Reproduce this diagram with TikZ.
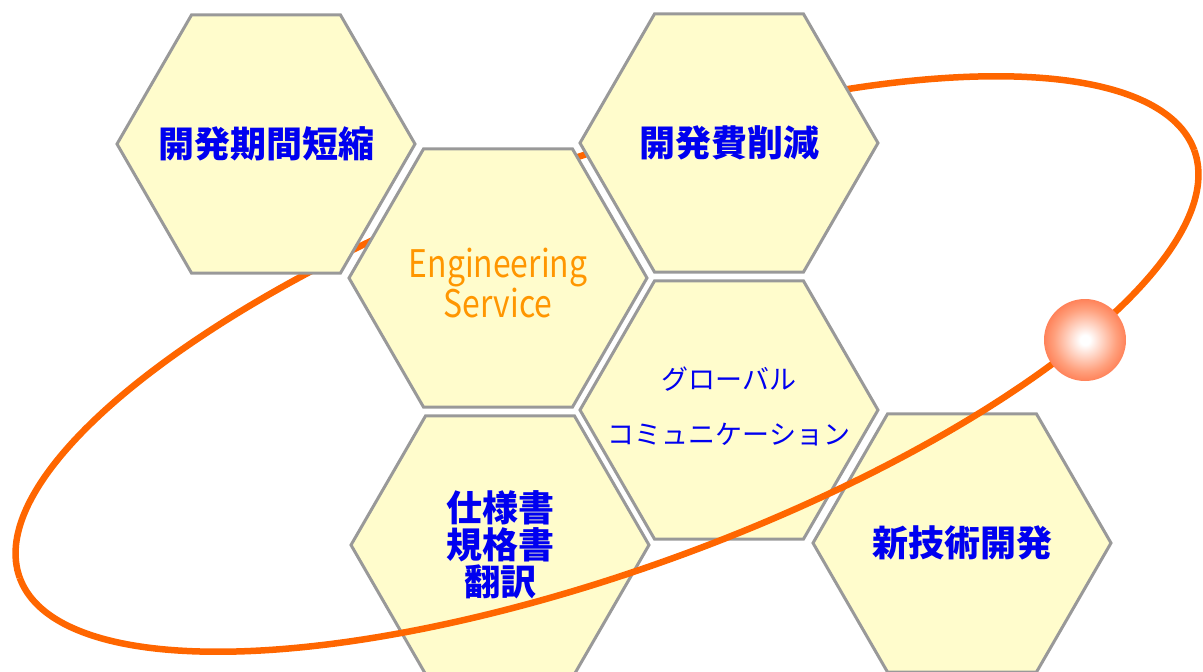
\documentclass[tikz,border=0pt]{standalone}
\usepackage{fontspec}
\newfontfamily\jpfont{Noto Sans CJK JP}
\newfontfamily\engfont[FakeStretch=0.84]{Noto Sans CJK JP}
\usetikzlibrary{shapes.geometric}
\definecolor{hexfill}{RGB}{255,252,204}
\definecolor{hexline}{RGB}{153,153,153}
\definecolor{orbitorange}{RGB}{255,102,0}
\definecolor{orbmid}{RGB}{255,160,125}
\definecolor{orbedge}{RGB}{255,96,48}
\definecolor{servorange}{RGB}{255,150,0}
\definecolor{labelblue}{RGB}{0,0,240}
\pgfdeclareradialshading{orbglow}{\pgfpoint{0bp}{0bp}}{%
  color(0bp)=(white); color(3bp)=(white); color(19bp)=(orbmid); color(32bp)=(orbedge); color(50bp)=(orbedge)}
\tikzset{
  hexcell/.style={regular polygon, regular polygon sides=6, minimum size=298pt,
    inner sep=0pt, draw=hexline, fill=hexfill, line width=3pt},
  celltext/.style={align=center, text=labelblue, inner sep=0pt,
    font=\jpfont\bfseries\fontsize{36}{37}\selectfont},
  orbit/.style={draw=orbitorange, line width=6.5pt},
}
\newcommand{\orbitx}[1]{607+625*cos(#1)*cos(20)+205*sin(#1)*sin(20)}
\newcommand{\orbity}[1]{364-625*cos(#1)*sin(20)+205*sin(#1)*cos(20)}

\begin{document}
\begin{tikzpicture}[x=1pt,y=-1pt]
  \useasboundingbox (0,0) rectangle (1203,672);
  \draw[orbit] plot[domain=180:360,samples=80,smooth] ({\orbitx{\x}},{\orbity{\x}});
  \node[hexcell] (shorten) at (266,144) {};
  \node[hexcell] (costcut) at (729,143) {};
  \node[hexcell] (service) at (498,278) {};
  \node[hexcell] (global) at (729,410) {};
  \node[hexcell] (transl) at (500,545) {};
  \node[hexcell] (newtech) at (962,543) {};
  \node[celltext] (shorten-t) at (shorten) {開発期間短縮};
  \node[celltext] (costcut-t) at (costcut) {開発費削減};
  \node[celltext, text=servorange, font=\engfont\fontsize{38}{36}\selectfont] (service-t) at ([yshift=-5pt]service.center) {Engineering\\Service};
  \node[celltext, font=\jpfont\fontsize{27}{55}\selectfont] (global-t) at ([yshift=4pt]global.center) {グローバル\\コミュニケーション};
  \node[celltext] (transl-t) at (transl) {仕様書\\規格書\\翻訳};
  \node[celltext] (newtech-t) at (newtech) {新技術開発};
  \draw[orbit] plot[domain=0:180,samples=80,smooth] ({\orbitx{\x}},{\orbity{\x}});
  \node[circle, minimum size=82pt, inner sep=0pt, shading=orbglow] (orb) at (1085,340) {};
\end{tikzpicture}
\end{document}
